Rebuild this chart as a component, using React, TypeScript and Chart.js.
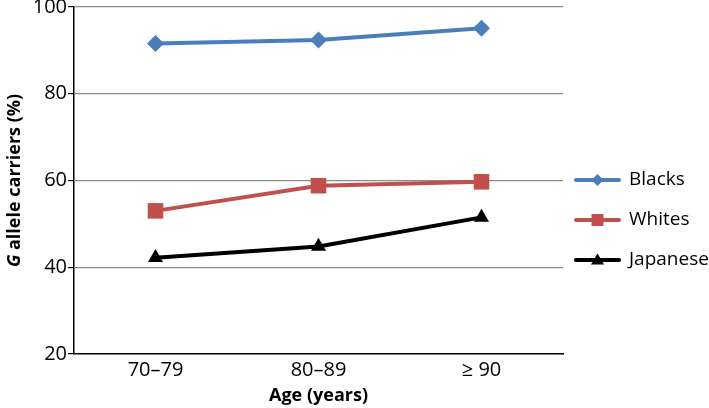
import React, { useEffect, useRef } from "react";
import { Chart, registerables } from "chart.js";
Chart.register(...registerables);

const categories = ["70–79", "80–89", "≥ 90"];
const seriesNames = ["Blacks", "Whites", "Japanese"];
const blacks = [91.6, 92.4, 95.1];
const whites = [53.0, 58.8, 59.7];
const japanese = [42.2, 44.8, 51.5];
const yTicks = [20, 40, 60, 80, 100];

const colors = ["#4a7ebb", "#c0504d", "#000000"];
const markers = ["rectRot", "rect", "triangle"];
const markerRadius = [8.5, 11, 8.7];
const FONT = "'Open Sans', 'Liberation Sans', sans-serif";

const customText = {
  id: "customText",
  afterDraw(chart: any) {
    const ctx = chart.ctx;
    const area = chart.chartArea;
    ctx.save();
    // y axis title
    ctx.fillStyle = "#000";
    ctx.translate(15, (area.top + area.bottom) / 2);
    ctx.rotate(-Math.PI / 2);
    ctx.textBaseline = "middle";
    const italic = "italic bold 18px " + FONT;
    const bold = "bold 18px " + FONT;
    ctx.font = italic;
    const g = "G";
    const gw = ctx.measureText(g).width;
    ctx.font = bold;
    const rest = " allele carriers (%)";
    const rw = ctx.measureText(rest).width;
    const total = gw + rw;
    ctx.textAlign = "left";
    ctx.font = italic;
    ctx.fillText(g, -total / 2, 0);
    ctx.font = bold;
    ctx.fillText(rest, -total / 2 + gw, 0);
    ctx.restore();

    // x title
    ctx.save();
    ctx.fillStyle = "#000";
    ctx.font = bold;
    ctx.textAlign = "center";
    ctx.textBaseline = "middle";
    ctx.fillText("Age (years)", (area.left + area.right) / 2, 396);
    ctx.restore();

    // legend
    ctx.save();
    chart.data.datasets.forEach((ds: any, i: number) => {
      const y = 180 + i * 40;
      const x0 = 576;
      const x1 = 619;
      ctx.strokeStyle = ds.borderColor;
      ctx.lineWidth = 4;
      ctx.lineCap = "round";
      ctx.beginPath();
      ctx.moveTo(x0, y);
      ctx.lineTo(x1, y);
      ctx.stroke();
      ctx.fillStyle = ds.backgroundColor;
      ctx.beginPath();
      const cx = (x0 + x1) / 2;
      if (ds.pointStyle === "rectRot") {
        const r = 6;
        ctx.moveTo(cx, y - r);
        ctx.lineTo(cx + r, y);
        ctx.lineTo(cx, y + r);
        ctx.lineTo(cx - r, y);
      } else if (ds.pointStyle === "rect") {
        const r = 6;
        ctx.rect(cx - r, y - r, 2 * r, 2 * r);
      } else {
        const r = 6.5;
        ctx.moveTo(cx, y - r);
        ctx.lineTo(cx + r, y + r * 0.7);
        ctx.lineTo(cx - r, y + r * 0.7);
      }
      ctx.closePath();
      ctx.fill();
      ctx.fillStyle = "#000";
      ctx.font = "19px " + FONT;
      ctx.textAlign = "left";
      ctx.textBaseline = "middle";
      ctx.fillText(ds.label, 629, y);
    });
    ctx.restore();
  },
};

export default function App() {
  const ref = useRef<HTMLCanvasElement>(null);
  useEffect(() => {
    document.body.style.margin = "0";
    const data = [blacks, whites, japanese];
    const chart = new Chart(ref.current!, {
      type: "line",
      data: {
        labels: categories,
        datasets: seriesNames.map((name, i) => ({
          label: name,
          data: data[i],
          borderColor: colors[i],
          backgroundColor: colors[i],
          pointBackgroundColor: colors[i],
          pointBorderColor: colors[i],
          pointStyle: markers[i] as any,
          pointRadius: markerRadius[i],
          pointBorderWidth: 0,
          borderWidth: 4,
          tension: 0,
        })),
      },
      options: {
        animation: false,
        responsive: false,
        layout: { autoPadding: false, padding: { left: 0, right: 146, top: 6, bottom: 0 } },
        plugins: { legend: { display: false }, tooltip: { enabled: false } },
        scales: {
          x: {
            offset: true,
            grid: { display: false, drawTicks: false },
            border: { display: true, color: "#000", width: 1.5 },
            ticks: { color: "#000", font: { family: FONT, size: 20 }, padding: 4 },
            afterFit: (s: any) => {
              s.height = 54;
            },
          },
          y: {
            min: 20,
            max: 100,
            afterBuildTicks: (s: any) => {
              s.ticks = yTicks.map((v) => ({ value: v }));
            },
            grid: {
              color: (c: any) => (c.tick && c.tick.value === 20 ? "rgba(0,0,0,0)" : "#8c8c8c"),
              lineWidth: 1.2,
              tickColor: "#000",
              tickLength: 6,
            },
            border: { display: true, color: "#000", width: 1.5 },
            ticks: { color: "#000", font: { family: FONT, size: 20, lineHeight: 0.6 }, padding: 1 },
            afterFit: (s: any) => {
              s.width = 74;
            },
          },
        },
      },
      plugins: [customText],
    });
    return () => chart.destroy();
  }, []);
  return (
    <div style={{ width: 709, height: 408 }}>
      <canvas ref={ref} width={709} height={408} style={{ width: 709, height: 408 }} />
    </div>
  );
}
